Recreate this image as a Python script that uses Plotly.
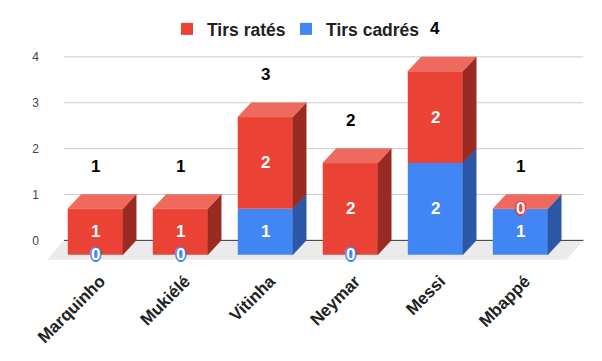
import plotly.graph_objects as go

# ---- data ----
players = ["Marquinho", "Mukiélé", "Vitinha", "Neymar", "Messi", "Mbappé"]
tirs_rates = [1, 1, 2, 2, 2, 0]
tirs_cadres = [0, 0, 1, 0, 2, 1]
y_ticks = [0, 1, 2, 3, 4]

# ---- styling / geometry constants ----
# the page body has an 8px default margin, so the figure is sized to fit the window
W, H = 594, 353
ML, MR, MT, MB = 32, 12, 42, 100
XR = [-0.65, 5.82]
YR = [-0.45, 4.15]
BAR_W = 0.647          # front face width (category units)
DX = 0.158             # depth offset in x (category units)
DY = 0.313             # depth offset in y (value units)
GRID_L, GRID_R = -0.368, 5.742
FLOOR_DX, FLOOR_DY = 0.2, 0.424
FONT = "Liberation Sans, Arial, sans-serif"

RED = dict(front="#EA4335", top="#EE6A5F", side="#992B23")
BLUE = dict(front="#4285F4", top="#6FA2F6", side="#2B57A6")

series = [("Tirs cadrés", tirs_cadres, BLUE, "legend2"), ("Tirs ratés", tirs_rates, RED, "legend")]

idx = list(range(len(players)))
fig = go.Figure()

bases = [0] * len(players)
seg_info = []
for name, vals, col, leg in series:
    b = list(bases)
    seg_info.append((name, vals, col, leg, b))
    bases = [bb + v for bb, v in zip(bases, vals)]
totals = bases

annotations = []
for si, (name, vals, col, leg, b) in enumerate(seg_info):
    is_top = si == len(seg_info) - 1
    # front faces
    fig.add_trace(go.Bar(
        x=idx, y=vals, base=[bb - DY for bb in b], width=BAR_W,
        marker=dict(color=col["front"], line=dict(width=0)),
        name=name, legend=leg, hoverinfo="skip"))
    # side faces
    sx, sy = [], []
    for i, v, bb in zip(idx, vals, b):
        if v == 0:
            continue
        r = i + BAR_W / 2
        sx += [r, r, r + DX, r + DX, r, None]
        sy += [bb - DY, bb + v - DY, bb + v, bb, bb - DY, None]
    fig.add_trace(go.Scatter(x=sx, y=sy, mode="lines", fill="toself",
                             fillcolor=col["side"], line=dict(color=col["side"], width=0.5),
                             showlegend=False, hoverinfo="skip"))
    # top faces (only for top segment)
    if is_top:
        tx, ty = [], []
        for i, bb, v in zip(idx, b, vals):
            t = bb + v
            l, r = i - BAR_W / 2, i + BAR_W / 2
            tx += [l, r, r + DX, l + DX, l, None]
            ty += [t - DY, t - DY, t, t, t - DY, None]
        fig.add_trace(go.Scatter(x=tx, y=ty, mode="lines", fill="toself",
                                 fillcolor=col["top"], line=dict(color=col["top"], width=0.5),
                                 showlegend=False, hoverinfo="skip"))
    # value labels
    for i, v, bb in zip(idx, vals, b):
        yc = bb + v / 2 - DY
        if v == 0:
            o = col["front"]
            sh = ", ".join(f"{a}px {c}px 0 {o}" for a, c in
                           [(-1.5, 0), (1.5, 0), (0, -1.5), (0, 1.5), (-1, -1), (1, -1), (-1, 1), (1, 1)])
            f = dict(family=FONT, size=17, color="white", weight="bold", shadow=sh)
        else:
            f = dict(family=FONT, size=17, color="white", weight="bold")
        annotations.append(dict(x=i, y=yc, xref="x", yref="y", text=str(v),
                                showarrow=False, font=f))

for i, t in zip(idx, totals):
    annotations.append(dict(x=i, y=t, xref="x", yref="y", text=str(t), yshift=28,
                            showarrow=False,
                            font=dict(family=FONT, size=17, color="black", weight="bold")))

shapes = []
# floor
fl = GRID_L
fr = GRID_R
shapes.append(dict(type="path", xref="x", yref="y", layer="below",
                   path=f"M {fl},0 L {fr},0 L {fr - FLOOR_DX},{-FLOOR_DY} L {fl - FLOOR_DX},{-FLOOR_DY} Z",
                   fillcolor="#EBEBEB", line=dict(width=0)))
for k in y_ticks:
    shapes.append(dict(type="line", xref="x", yref="y", layer="below",
                       x0=GRID_L, x1=GRID_R, y0=k, y1=k,
                       line=dict(color="#333333" if k == 0 else "#CCCCCC", width=1)))

legend_common = dict(orientation="h", xanchor="left", y=1 - 21 / H, yref="container",
                     yanchor="middle",
                     font=dict(family=FONT, size=17.5, color="#222222", weight="bold"),
                     bgcolor="rgba(0,0,0,0)")

fig.update_layout(
    width=W, height=H,
    margin=dict(l=ML, r=MR, t=MT, b=MB, autoexpand=False),
    paper_bgcolor="white", plot_bgcolor="white",
    barmode="overlay",
    showlegend=True,
    legend=dict(x=0.2309, **legend_common),
    legend2=dict(x=0.4473, **legend_common),
    xaxis=dict(range=XR, tickvals=idx, ticktext=players, tickangle=-45, automargin=False,
               showgrid=False, zeroline=False, showline=False, ticks="",
               ticklabelshift=5, ticklabelstandoff=6,
               tickfont=dict(family=FONT, size=17, color="#222222", weight="bold")),
    yaxis=dict(range=YR, tickvals=y_ticks, showgrid=False, zeroline=False, showline=False,
               automargin=False, ticks="", tickfont=dict(family=FONT, size=12, color="#444444")),
    shapes=shapes,
    annotations=annotations,
)

fig.write_html("out.html")
